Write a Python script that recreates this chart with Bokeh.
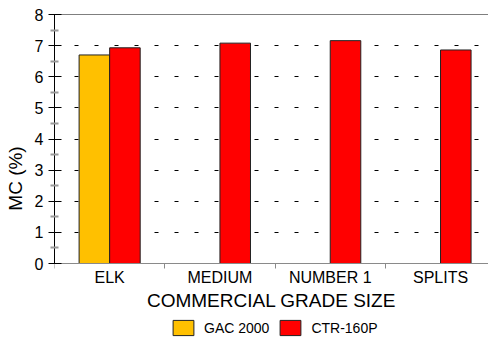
from bokeh.plotting import figure
from bokeh.models import (Range1d, FixedTicker, Span, Legend, LegendItem, ColumnDataSource)
from bokeh.embed import file_html
from bokeh.resources import INLINE

categories = ["ELK", "MEDIUM", "NUMBER 1", "SPLITS"]
series_names = ["GAC 2000", "CTR-160P"]
gac_2000 = [6.70, None, None, None]
ctr_160p = [6.93, 7.08, 7.16, 6.86]
series_colors = ["#FFC000", "#FF0000"]
y_ticks = [0, 1, 2, 3, 4, 5, 6, 7, 8]

FONT = "Liberation Sans"

# frame spans whole height below the top margin; the area under y=0 holds
# the category labels, axis title and legend
px_per_unit = (263 - 14) / 8.0
y_low = -(342 - 263) / px_per_unit

p = figure(width=488, height=342, output_backend="svg", toolbar_location=None,
           x_range=Range1d(0, 3.935), y_range=Range1d(y_low, 8),
           min_border_left=54, min_border_right=0, min_border_top=14, min_border_bottom=0)
p.outline_line_color = None
p.background_fill_color = "white"
p.border_fill_color = "white"

bar_w = 0.277
offsets = [-bar_w / 2, bar_w / 2]
renderers = []
for vals, off, col in zip([gac_2000, ctr_160p], offsets, series_colors):
    xs, tops = [], []
    for i, v in enumerate(vals):
        if v is not None:
            xs.append(i + 0.5 + off)
            tops.append(v)
    src = ColumnDataSource(dict(x=xs, top=tops))
    r = p.vbar(x="x", top="top", bottom=0, width=bar_w, source=src,
               fill_color=col, line_color="#222222", line_width=1)
    renderers.append(r)

# top border
p.add_layout(Span(location=8, dimension="width", line_color="black", line_width=1.2))

# grid
p.xgrid.visible = False
p.ygrid.ticker = FixedTicker(ticks=y_ticks[1:-1])
p.ygrid.grid_line_color = "black"
p.ygrid.grid_line_dash = "4 16"
p.ygrid.grid_line_width = 1

# y axis
ya = p.yaxis[0]
ya.bounds = (0, 8)
ya.ticker = FixedTicker(ticks=y_ticks, minor_ticks=[t + 0.5 for t in y_ticks[:-1]])
ya.axis_line_color = "black"
ya.major_tick_line_color = "black"
ya.major_tick_in = 7
ya.major_tick_out = 6
ya.minor_tick_line_color = "#9a9a9a"
ya.minor_tick_line_width = 2
ya.minor_tick_in = 4
ya.minor_tick_out = 4
ya.major_label_text_font = FONT
ya.major_label_text_font_size = "16px"
ya.major_label_text_color = "black"
ya.major_label_standoff = 5
ya.axis_label = "MC (%)"
ya.axis_label_text_font = FONT
ya.axis_label_text_font_size = "19px"
ya.axis_label_text_font_style = "normal"
ya.axis_label_text_color = "black"
ya.axis_label_standoff = 6

# x axis, drawn at y = 0
xa = p.xaxis[0]
xa.fixed_location = 0
centers = [i + 0.5 for i in range(len(categories))]
xa.ticker = FixedTicker(ticks=centers, minor_ticks=list(range(len(categories) + 1)))
xa.major_label_overrides = {c: name for c, name in zip(centers, categories)}
xa.axis_line_color = "#8a8a8a"
xa.major_tick_line_color = None
xa.major_tick_in = 0
xa.major_tick_out = 0
xa.minor_tick_line_color = "#8a8a8a"
xa.minor_tick_in = 0
xa.minor_tick_out = 5
xa.major_label_text_font = FONT
xa.major_label_text_font_size = "16px"
xa.major_label_text_color = "black"
xa.major_label_standoff = 0
xa.axis_label = "COMMERCIAL GRADE SIZE"
xa.axis_label_text_font = FONT
xa.axis_label_text_font_size = "19px"
xa.axis_label_text_font_style = "normal"
xa.axis_label_text_color = "black"
xa.axis_label_standoff = 1

items = [LegendItem(label=n, renderers=[r]) for n, r in zip(series_names, renderers)]
legend = Legend(items=items, orientation="horizontal", location=(116, 5),
                glyph_width=26, glyph_height=19, label_standoff=8, spacing=8,
                padding=0, margin=0, border_line_color=None, background_fill_alpha=0,
                label_text_font=FONT, label_text_font_size="14px",
                label_text_color="black", label_height=19)
p.add_layout(legend, "center")

open("out.html", "w").write(file_html(p, INLINE))
